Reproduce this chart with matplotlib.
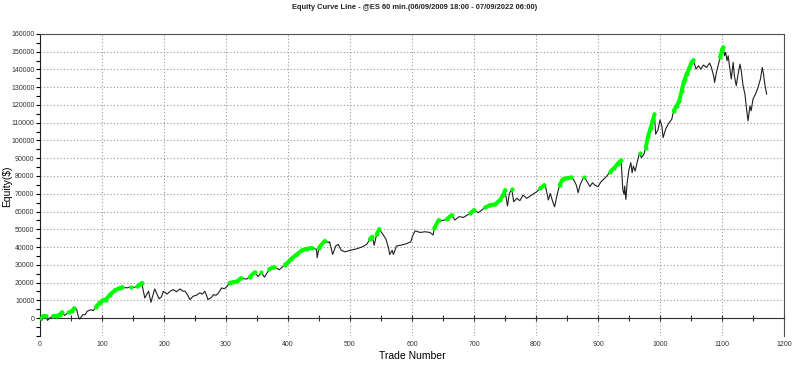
import numpy as np
import matplotlib
matplotlib.use('Agg')
import matplotlib.pyplot as plt

plt.rcParams['font.family'] = ['Liberation Sans Narrow', 'Liberation Sans', 'DejaVu Sans']

# ---- data ----
trades = [
    0, 3, 5, 10, 12, 16, 21, 27, 32, 35, 40, 46, 51, 55, 59, 62, 64, 69, 73, 76,
    82, 86, 90, 96, 101, 106, 113, 121, 129, 133, 140, 146, 152, 157, 161, 164,
    169, 175, 179, 185, 192, 196, 199, 205, 210, 215, 220, 226, 230, 234, 238, 242,
    247, 252, 258, 262, 266, 271, 276, 280, 284, 288, 293, 297, 301,
    306, 312, 318, 324, 333, 338, 346, 352, 357, 362, 370, 378, 386, 395, 400, 405,
    414, 422, 430, 438, 446, 447, 450, 459, 465, 467, 472, 477, 481, 486, 492, 500,
    511, 519, 527, 532, 536, 539, 543, 547, 553, 558, 562, 564, 568, 570, 575, 583,
    591, 598, 601, 605, 613, 621, 629,
    634, 636, 643, 648, 656, 664, 669, 676, 683, 694, 700, 707, 718, 726, 734, 742,
    747, 750, 754, 757, 761, 764, 769, 774, 779, 785, 793, 801, 807, 813, 816, 820,
    823, 827, 830, 834, 838, 843, 849, 857, 861, 865, 868, 871, 877, 881, 887, 891,
    895, 900, 905, 913, 920, 926, 932, 937,
    938, 940, 942, 943, 945, 947, 950, 953, 955, 957, 960, 963, 967, 970, 974, 977,
    981, 985, 988, 991, 993, 997, 1000, 1003, 1005, 1009, 1013, 1019, 1022, 1027,
    1031, 1035, 1038, 1040, 1043, 1047, 1051, 1054,
    1058, 1062, 1066, 1070, 1075, 1080, 1083, 1087, 1088, 1091, 1095, 1097, 1100,
    1102, 1104, 1106, 1108, 1110, 1112, 1115, 1118, 1120, 1123, 1126, 1129, 1131,
    1134, 1137, 1139, 1142, 1145, 1147, 1150, 1154, 1158, 1162, 1165, 1167, 1169, 1172,
]
equity = [
    0, -1300, 900, 900, -1300, 0, 1300, 1300, 1900, 3200, 1500, 3200, 3800, 5500, 5100, 600, -600, 1900, 1900, 3800,
    4700, 4200, 6200, 8500, 10000, 10400, 13200, 15700, 17000, 17300, 17000, 17500, 17300, 17800, 18900, 19800,
    11300, 15100, 8900, 16400, 10800, 12000, 15100, 13500, 15100, 16000, 14800, 16400, 15200, 15100, 13000, 10400,
    12300, 12800, 14200, 13500, 15100, 10400, 11500, 13200, 12800, 14200, 17000, 16500, 17500,
    19900, 20200, 20700, 22500, 21900, 23000, 25700, 23400, 25700, 23000, 27600, 28800, 27200, 30100, 31400, 33300,
    35800, 38100, 39000, 39600, 38700, 33900, 39600, 43400, 42500, 43000, 35800, 40600, 41500, 38100, 37300, 38100,
    39000, 40000, 41500, 44400, 45900, 41000, 47200, 50100, 47200, 44400, 39600, 35800, 38100, 35800, 40600, 41100,
    41900, 42900, 46300, 49100, 48200, 48600, 48200,
    46800, 50500, 55200, 54800, 55600, 58000, 55200, 57100, 56700, 59000, 60800, 59300, 62300, 63600, 64000, 66500,
    69300, 72100, 63100, 70200, 72500, 65500, 67400, 66100, 69300, 67400, 69300, 71100, 73000, 74900, 73000, 66500,
    70200, 65500, 62700, 69300, 74900, 78100, 78600, 79200, 77700, 74900, 70600, 74900, 79600, 77700, 74000, 76200,
    74900, 74000, 76800, 79500, 82500, 84500, 87000, 88800,
    84700, 72400, 69600, 74300, 66800, 76200, 83700, 87500, 81800, 85600, 82800, 87500, 93100, 90300, 92200, 96000,
    102500, 107300, 111000, 114800, 103500, 106300, 111600, 108200, 101600, 106300, 109100, 112000, 116700, 119500,
    122300, 128000, 132700, 134600, 137400, 140600, 144000, 145300,
    140200, 142100, 140200, 142500, 141100, 143600, 141100, 135500, 132700, 138300, 144000, 146800, 151100,
    152400, 147700, 149600, 144900, 147700, 142100, 134600, 144000, 136400, 130800, 137400, 143000, 139300,
    130800, 126100, 119500, 111000, 119500, 116700, 123300, 126100, 129800, 134600, 141100, 137400, 131700, 126100,
]

title = 'Equity Curve Line - @ES 60 min.(06/09/2009 18:00 - 07/09/2022 06:00)'

x = np.array(trades)
y = np.array(equity)
is_high = y >= np.maximum.accumulate(y)

fig = plt.figure(figsize=(8, 3.65), dpi=100)
ax = fig.add_axes([0.05, 0.08, 0.93, 0.827])

ax.set_xlim(0, 1200)
ax.set_ylim(-10000, 160000)

ax.plot(x, y, color='#202020', lw=0.8, zorder=3)

# green on new equity highs
for i in range(1, len(x)):
    if is_high[i] and is_high[i - 1]:
        ax.plot(x[i-1:i+1], y[i-1:i+1], color='#00ff00', lw=2.8,
                solid_capstyle='round', zorder=4)
ax.plot(x[is_high], y[is_high], 'o', color='#00ff00', ms=3, mew=0, zorder=5)

# grid
ax.set_yticks(np.arange(0, 160001, 10000))
ax.set_yticks(np.arange(-10000, 160001, 5000), minor=True)
ax.set_xticks(np.arange(0, 1201, 100))
ax.grid(True, which='major', color='#999999', ls=(0, (1, 2)), lw=0.8)
ax.set_axisbelow(True)

# x axis drawn at zero
ax.spines['bottom'].set_position(('data', 0))
ax.spines['bottom'].set_color('#303030')
ax.set_xticks(np.arange(0, 1201, 50), minor=True)
ax.tick_params(axis='x', which='both', direction='inout', length=4,
               width=0.8, labelbottom=False, color='#303030')

sec = ax.secondary_xaxis(0)
sec.set_xticks(np.arange(0, 1201, 100))
sec.spines['bottom'].set_visible(False)
sec.tick_params(length=0, labelsize=5, pad=4, labelcolor='#333333')

ax.spines['top'].set_color('#505050')
ax.spines['right'].set_color('#505050')
ax.spines['left'].set_color('#202020')
ax.tick_params(axis='y', which='both', direction='out', length=3, width=0.8,
               labelsize=5, labelcolor='#333333', pad=1)

fig.text(0.009, 0.49, 'Equity($)', rotation=90, ha='center', va='center',
         fontsize=7.5, family=['Liberation Sans', 'DejaVu Sans'])
fig.text(0.515, 0.024, 'Trade Number', ha='center', va='center',
         fontsize=7.5, family=['Liberation Sans', 'DejaVu Sans'])
fig.text(0.518, 0.98, title, ha='center', va='center', fontsize=5.4,
         fontweight='bold', color='#222222')

fig.savefig('out.png', dpi=100)
